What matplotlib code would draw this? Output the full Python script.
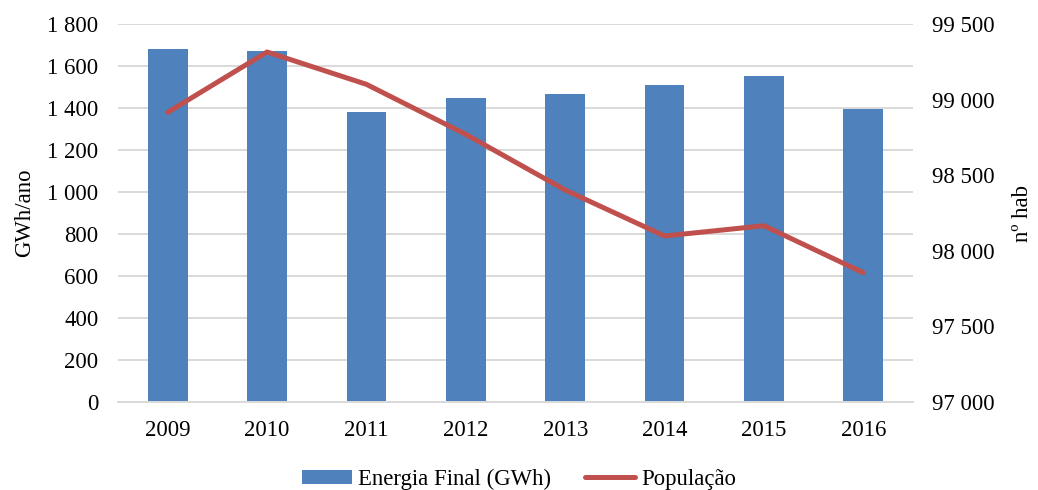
import matplotlib
matplotlib.use("Agg")
import matplotlib.pyplot as plt
from matplotlib.ticker import FuncFormatter, MultipleLocator

years = ["2009", "2010", "2011", "2012", "2013", "2014", "2015", "2016"]
energia = [1682, 1670, 1382, 1449, 1465, 1508, 1554, 1395]
populacao = [98916, 99315, 99101, 98770, 98402, 98098, 98166, 97855]

plt.rcParams['font.family'] = ['Liberation Serif', 'DejaVu Serif']
FS = 16.4

fig = plt.figure(figsize=(10.38, 4.9), dpi=100)
ax = fig.add_axes([0.1137, 0.1796, 0.7659, 0.7714])
x = list(range(len(years)))
ax.bar(x, energia, width=0.4, color="#4f81bd", label="Energia Final (GWh)", zorder=2)
ax.set_xlim(-0.5, len(years) - 0.5)
ax.set_ylim(0, 1800)
ax.yaxis.set_major_locator(MultipleLocator(200))
fmt = FuncFormatter(lambda v, p: f"{int(v):,}".replace(",", " "))
ax.yaxis.set_major_formatter(fmt)
ax.set_xticks(x)
ax.set_xticklabels(years)
ax.grid(axis="y", color="#d9d9d9", linewidth=1.4, zorder=0)
ax.set_axisbelow(True)
for s in ["top", "left", "right"]:
    ax.spines[s].set_visible(False)
ax.spines["bottom"].set_color("#d9d9d9")
ax.spines["bottom"].set_linewidth(1.4)
ax.tick_params(axis="both", length=0, labelsize=FS)
ax.tick_params(axis="y", pad=14)
ax.tick_params(axis="x", pad=13)
ax.set_ylabel("GWh/ano", fontsize=FS, labelpad=9)

ax2 = ax.twinx()
ax2.plot(x, populacao, color="#c0504d", linewidth=3.6, label="População",
         solid_capstyle="round", solid_joinstyle="round", zorder=3)
ax2.set_ylim(97000, 99500)
ax2.yaxis.set_major_locator(MultipleLocator(500))
ax2.yaxis.set_major_formatter(fmt)
for s in ["top", "left", "right", "bottom"]:
    ax2.spines[s].set_visible(False)
ax2.tick_params(axis="y", length=0, labelsize=FS, pad=14)
ax2.set_ylabel("nº hab", fontsize=FS, rotation=90, labelpad=12)

h1, l1 = ax.get_legend_handles_labels()
h2, l2 = ax2.get_legend_handles_labels()
fig.legend(h1 + h2, l1 + l2, loc="center", bbox_to_anchor=(0.5, 0.022), ncol=2,
           frameon=False, fontsize=FS, handlelength=2.2, handleheight=0.55,
           handletextpad=0.25, columnspacing=1.5)

fig.savefig("out.png", dpi=100)
